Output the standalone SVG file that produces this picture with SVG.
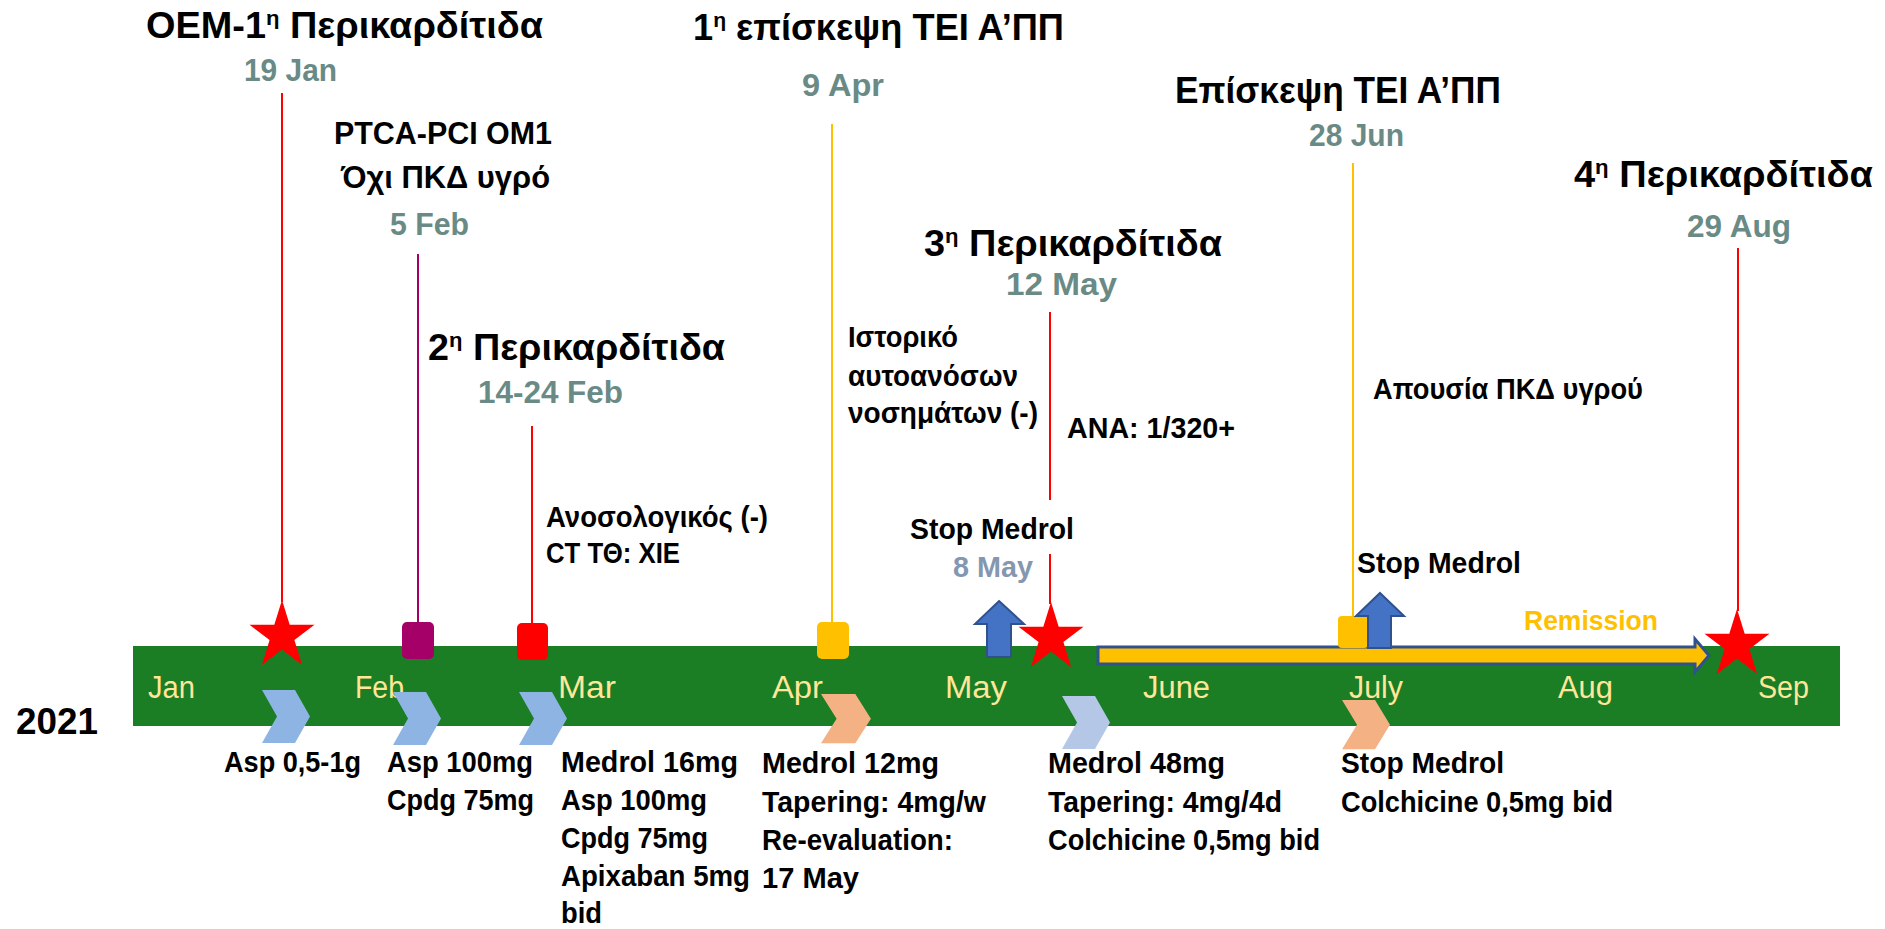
<svg xmlns="http://www.w3.org/2000/svg" xmlns:xlink="http://www.w3.org/1999/xlink" width="1885" height="929" viewBox="0 0 1885 929">
<style>
text{font-family:"Liberation Sans",Arial,sans-serif;font-weight:bold;fill:#000}
.title{font-size:36px}
.sub{font-size:32px}
.date{font-size:32px;fill:#6A8A86}
.note{font-size:29px}
.drug{font-size:30px}
.month{font-weight:normal;font-size:31px;fill:#FFE699}
.sup{font-size:21px}
.ln{stroke-width:2;fill:none}
.red{stroke:#FF0000}
.pur{stroke:#A50068}
.org{stroke:#FFC000}
.star{fill:#FF0000}
.uparrow{fill:#4472C4;stroke:#2F528F;stroke-width:2}
</style>
<defs>
<path id="star" d="M0,0 L7.7,24.8 L32.5,24.8 L12.4,40.1 L20.1,65 L0,49.6 L-20.1,65 L-12.4,40.1 L-32.5,24.8 L-7.7,24.8 Z"/>
<path id="chev" d="M0,0 H33 L48,26.5 L33,53 H0 L15,26.5 Z"/>
</defs>
<rect width="1885" height="929" fill="#FFFFFF"/>

<g id="timeline">
<rect x="133" y="646" width="1707" height="80" fill="#1B7D24"/>
<text class="month" x="148" y="698" textLength="47" lengthAdjust="spacingAndGlyphs">Jan</text>
<text class="month" x="355" y="698" textLength="49" lengthAdjust="spacingAndGlyphs">Feb</text>
<text class="month" x="558" y="698" textLength="58" lengthAdjust="spacingAndGlyphs">Mar</text>
<text class="month" x="772" y="698" textLength="51" lengthAdjust="spacingAndGlyphs">Apr</text>
<text class="month" x="945" y="698" textLength="62" lengthAdjust="spacingAndGlyphs">May</text>
<text class="month" x="1143" y="698" textLength="67" lengthAdjust="spacingAndGlyphs">June</text>
<text class="month" x="1349" y="698" textLength="54" lengthAdjust="spacingAndGlyphs">July</text>
<text class="month" x="1558" y="698" textLength="55" lengthAdjust="spacingAndGlyphs">Aug</text>
<text class="month" x="1758" y="698" textLength="51" lengthAdjust="spacingAndGlyphs">Sep</text>
</g>
<g id="year"><text x="16" y="734" font-size="37" textLength="82" lengthAdjust="spacingAndGlyphs">2021</text></g>

<g id="connectors">
<line class="ln red" x1="282" y1="93" x2="282" y2="602"/>
<line class="ln pur" x1="418" y1="254" x2="418" y2="623"/>
<line class="ln red" x1="532" y1="426" x2="532" y2="624"/>
<line class="ln org" x1="832" y1="124" x2="832" y2="623"/>
<line class="ln red" x1="1050" y1="312" x2="1050" y2="500"/>
<line class="ln red" x1="1050" y1="554" x2="1050" y2="604"/>
<line class="ln org" x1="1353" y1="163" x2="1353" y2="617"/>
<line class="ln red" x1="1738" y1="248" x2="1738" y2="611"/>
</g>

<g id="remission">
<polygon points="1098,647 1695,647 1695,639 1709,655.5 1695,672 1695,664 1098,664" fill="#FFC000" stroke="#2F528F" stroke-width="3"/>
<text x="1524" y="630" font-size="28" style="fill:#FFC000" textLength="134" lengthAdjust="spacingAndGlyphs">Remission</text>
</g>

<g id="ev-19jan">
<text class="title" x="146" y="38" textLength="397" lengthAdjust="spacingAndGlyphs">OEM-1<tspan class="sup" dy="-13">η</tspan><tspan dy="13"> Περικαρδίτιδα</tspan></text>
<text class="date" x="244" y="81" textLength="93" lengthAdjust="spacingAndGlyphs">19 Jan</text>
<use href="#star" xlink:href="#star" class="star" x="282" y="600"/>
</g>

<g id="ev-5feb">
<text class="sub" x="334" y="144" textLength="218" lengthAdjust="spacingAndGlyphs">PTCA-PCI OM1</text>
<text class="sub" x="341" y="188" textLength="209" lengthAdjust="spacingAndGlyphs">Όχι ΠΚΔ υγρό</text>
<text class="date" x="390" y="235" textLength="79" lengthAdjust="spacingAndGlyphs">5 Feb</text>
<rect x="402" y="622" width="32" height="37" rx="5" fill="#A50068"/>
</g>

<g id="ev-14feb">
<text class="title" x="428" y="360" textLength="297" lengthAdjust="spacingAndGlyphs">2<tspan class="sup" dy="-13">η</tspan><tspan dy="13"> Περικαρδίτιδα</tspan></text>
<text class="date" x="478" y="403" textLength="145" lengthAdjust="spacingAndGlyphs">14-24 Feb</text>
<text class="note" x="546" y="527" textLength="222" lengthAdjust="spacingAndGlyphs">Ανοσολογικός (-)</text>
<text class="note" x="546" y="563" textLength="134" lengthAdjust="spacingAndGlyphs">CT ΤΘ: ΧΙΕ</text>
<rect x="517" y="623" width="31" height="37" rx="5" fill="#FF0000"/>
</g>

<g id="ev-9apr">
<text class="title" x="693" y="40" textLength="371" lengthAdjust="spacingAndGlyphs">1<tspan class="sup" dy="-13">η</tspan><tspan dy="13"> επίσκεψη ΤΕΙ Α’ΠΠ</tspan></text>
<text class="date" x="802" y="96" textLength="82" lengthAdjust="spacingAndGlyphs">9 Apr</text>
<text class="note" x="848" y="347" textLength="110" lengthAdjust="spacingAndGlyphs">Ιστορικό</text>
<text class="note" x="848" y="386" textLength="170" lengthAdjust="spacingAndGlyphs">αυτοανόσων</text>
<text class="note" x="848" y="423" textLength="190" lengthAdjust="spacingAndGlyphs">νοσημάτων (-)</text>
<rect x="817" y="622" width="32" height="37" rx="5" fill="#FFC000"/>
</g>

<g id="ev-8may">
<text class="note" x="910" y="539" textLength="164" lengthAdjust="spacingAndGlyphs">Stop Medrol</text>
<text class="note" x="953" y="577" style="fill:#8497B0" textLength="80" lengthAdjust="spacingAndGlyphs">8 May</text>
<polygon class="uparrow" points="999,601 1024,624 1011,624 1011,657 987,657 987,624 975,624"/>
</g>

<g id="ev-12may">
<text class="title" x="924" y="256" textLength="298" lengthAdjust="spacingAndGlyphs">3<tspan class="sup" dy="-13">η</tspan><tspan dy="13"> Περικαρδίτιδα</tspan></text>
<text class="date" x="1006" y="295" textLength="111" lengthAdjust="spacingAndGlyphs">12 May</text>
<text class="note" x="1067" y="438" textLength="168" lengthAdjust="spacingAndGlyphs">ANA: 1/320+</text>
<use href="#star" xlink:href="#star" class="star" x="1051" y="602"/>
</g>

<g id="ev-28jun">
<text class="title" x="1175" y="103" textLength="326" lengthAdjust="spacingAndGlyphs">Επίσκεψη ΤΕΙ Α’ΠΠ</text>
<text class="date" x="1309" y="146" textLength="95" lengthAdjust="spacingAndGlyphs">28 Jun</text>
<text class="note" x="1373" y="399" textLength="270" lengthAdjust="spacingAndGlyphs">Απουσία ΠΚΔ υγρού</text>
<rect x="1338" y="616" width="30" height="32" rx="4" fill="#FFC000"/>
</g>

<g id="ev-july-stop">
<text class="note" x="1357" y="573" textLength="164" lengthAdjust="spacingAndGlyphs">Stop Medrol</text>
<polygon class="uparrow" points="1380,593 1404,616 1391,616 1391,648 1368,648 1368,616 1356,616"/>
</g>

<g id="ev-29aug">
<text class="title" x="1574" y="187" textLength="299" lengthAdjust="spacingAndGlyphs">4<tspan class="sup" dy="-13">η</tspan><tspan dy="13"> Περικαρδίτιδα</tspan></text>
<text class="date" x="1687" y="237" textLength="104" lengthAdjust="spacingAndGlyphs">29 Aug</text>
<use href="#star" xlink:href="#star" class="star" x="1737" y="609"/>
</g>

<g id="tx-jan">
<use href="#chev" xlink:href="#chev" x="262" y="690" fill="#8DB4E2"/>
<text class="drug" x="224" y="772" textLength="137" lengthAdjust="spacingAndGlyphs">Asp 0,5-1g</text>
</g>
<g id="tx-feb">
<use href="#chev" xlink:href="#chev" x="393" y="692" fill="#8DB4E2"/>
<text class="drug" x="387" y="772" textLength="146" lengthAdjust="spacingAndGlyphs">Asp 100mg</text>
<text class="drug" x="387" y="810" textLength="147" lengthAdjust="spacingAndGlyphs">Cpdg 75mg</text>
</g>
<g id="tx-mar">
<use href="#chev" xlink:href="#chev" x="519" y="692" fill="#8DB4E2"/>
<text class="drug" x="561" y="772" textLength="177" lengthAdjust="spacingAndGlyphs">Medrol 16mg</text>
<text class="drug" x="561" y="810" textLength="146" lengthAdjust="spacingAndGlyphs">Asp 100mg</text>
<text class="drug" x="561" y="848" textLength="147" lengthAdjust="spacingAndGlyphs">Cpdg 75mg</text>
<text class="drug" x="561" y="886" textLength="189" lengthAdjust="spacingAndGlyphs">Apixaban 5mg</text>
<text class="drug" x="561" y="923" textLength="41" lengthAdjust="spacingAndGlyphs">bid</text>
</g>
<g id="tx-apr">
<use href="#chev" xlink:href="#chev" x="821" y="694" fill="#F4B183" transform="translate(821 694) scale(1.04 0.93) translate(-821 -694)"/>
<text class="drug" x="762" y="773" textLength="177" lengthAdjust="spacingAndGlyphs">Medrol 12mg</text>
<text class="drug" x="762" y="812" textLength="224" lengthAdjust="spacingAndGlyphs">Tapering: 4mg/w</text>
<text class="drug" x="762" y="850" textLength="191" lengthAdjust="spacingAndGlyphs">Re-evaluation:</text>
<text class="drug" x="762" y="888" textLength="97" lengthAdjust="spacingAndGlyphs">17 May</text>
</g>
<g id="tx-may">
<use href="#chev" xlink:href="#chev" x="1062" y="696" fill="#B4C7E7"/>
<text class="drug" x="1048" y="773" textLength="177" lengthAdjust="spacingAndGlyphs">Medrol 48mg</text>
<text class="drug" x="1048" y="812" textLength="234" lengthAdjust="spacingAndGlyphs">Tapering: 4mg/4d</text>
<text class="drug" x="1048" y="850" textLength="272" lengthAdjust="spacingAndGlyphs">Colchicine 0,5mg bid</text>
</g>
<g id="tx-jul">
<use href="#chev" xlink:href="#chev" x="1342" y="700" fill="#F4B183" transform="translate(1342 700) scale(1 0.93) translate(-1342 -700)"/>
<text class="drug" x="1341" y="773" textLength="163" lengthAdjust="spacingAndGlyphs">Stop Medrol</text>
<text class="drug" x="1341" y="812" textLength="272" lengthAdjust="spacingAndGlyphs">Colchicine 0,5mg bid</text>
</g>
</svg>
